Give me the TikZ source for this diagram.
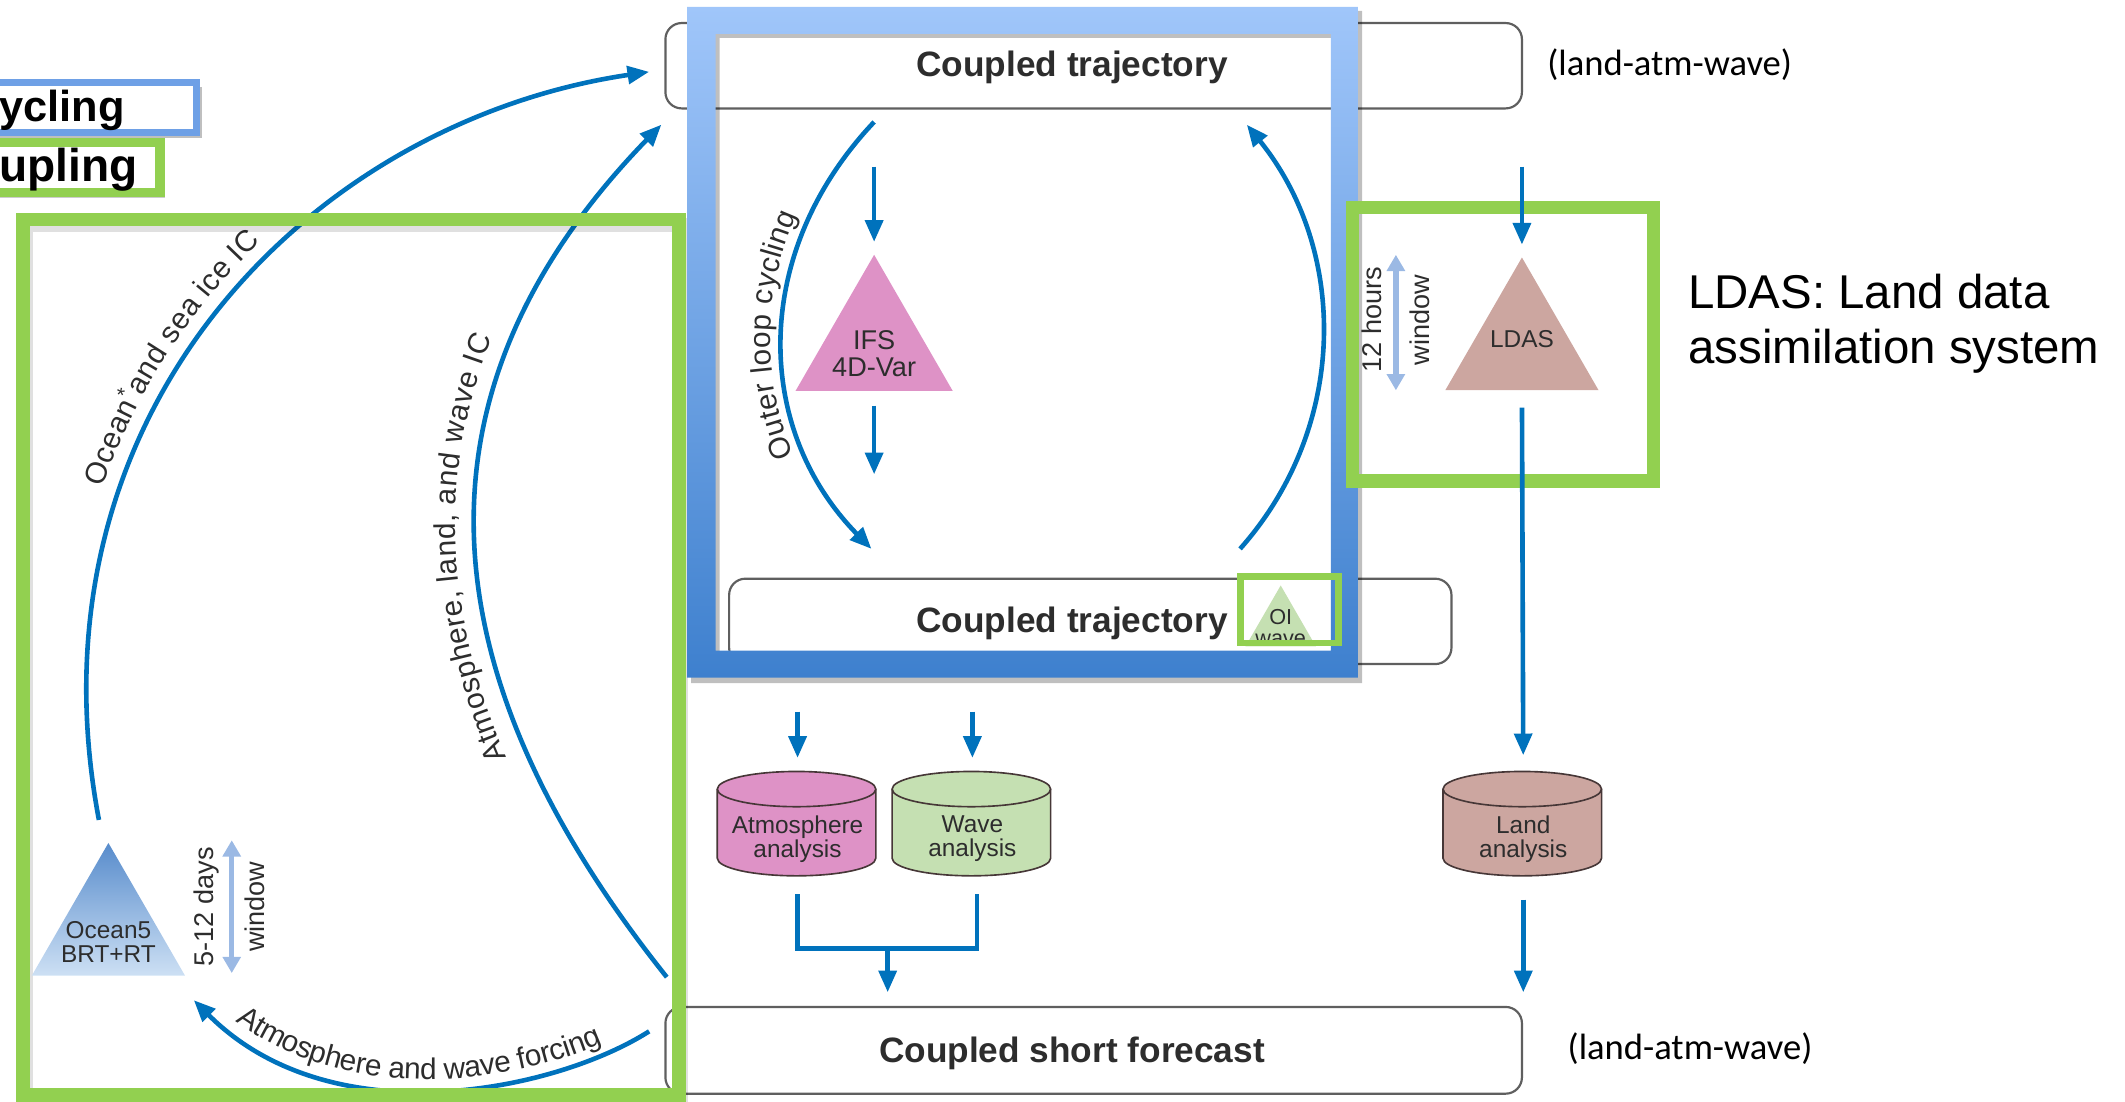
\documentclass[tikz,border=0pt]{standalone}
\usepackage{fontspec}
\setmainfont{Liberation Sans}
\newfontfamily\calibri{Carlito}
\usetikzlibrary{arrows.meta,shapes.geometric,decorations.text}

\definecolor{flowblue}{RGB}{0,114,188}
\definecolor{hlgreen}{RGB}{146,208,80}
\definecolor{frametop}{RGB}{160,198,250}
\definecolor{framebot}{RGB}{62,128,206}
\definecolor{boxgray}{RGB}{95,95,95}
\definecolor{txtgray}{RGB}{45,45,45}
\definecolor{atmpink}{RGB}{222,146,198}
\definecolor{wavgreen}{RGB}{197,224,178}
\definecolor{lndbrown}{RGB}{204,166,160}
\definecolor{winblue}{RGB}{155,185,228}
\definecolor{oceantop}{RGB}{88,140,204}
\definecolor{oceanbot}{RGB}{205,224,244}
\definecolor{cycblue}{RGB}{110,160,230}
\definecolor{drumedge}{RGB}{70,55,55}

\tikzset{every picture/.style={line width=0.75pt}}
\tikzset{
  flowarrow/.style={draw=flowblue, line width=1.7pt, -{Triangle[length=8pt,width=6.5pt]}},
  flowline/.style={draw=flowblue, line width=1.7pt},
  winarrow/.style={draw=winblue, line width=2pt, {Triangle[length=6pt,width=6.5pt]}-{Triangle[length=6pt,width=6.5pt]}},
  trajbox/.style={draw=boxgray, line width=0.8pt, rounded corners=6pt, fill=white, inner sep=0pt},
  tri/.style={regular polygon, regular polygon sides=3, inner sep=0pt, fill=#1},
  drumarea/.style={minimum width=58.5pt, minimum height=38.5pt, inner sep=0pt},
  drumline/.style={draw=drumedge, line width=0.6pt},
  boldtxt/.style={inner sep=0pt, text=txtgray, font=\bfseries\fontsize{13}{15}\selectfont},
  smalltxt/.style={inner sep=0pt, align=center, text=txtgray, font=\fontsize{#1}{#1}\selectfont},
}

\begin{document}
\begin{tikzpicture}[x=0.5pt,y=0.5pt,yscale=-1,xscale=1]
    \useasboundingbox (0,0) rectangle (1568,813);

    % Trajectory boxes
    \node[trajbox, minimum width=316pt, minimum height=31.5pt] (trajtop) at (807,48.5) {};
    \node[trajbox, minimum width=266.5pt, minimum height=31.5pt] (trajbot) at (804.5,458.5) {};
    \node[trajbox, minimum width=316pt, minimum height=32pt] (fcst) at (807,775) {};

    % Ocean cycle
    \coordinate (ocIC) at (73,605);
    \coordinate (topIC) at (479,53);
    \coordinate (fcIC) at (492,721);
    \coordinate (topIC2) at (488,92);
    \coordinate (fcF) at (479,761);
    \coordinate (ocF) at (143,738);
    \draw[flowarrow] (ocIC) .. controls (16,305) and (229,90) .. (topIC);
    \draw[flowarrow] (fcIC) .. controls (318,503) and (292,294) .. (topIC2);
    \draw[flowarrow] (fcF) .. controls (410,805) and (245,840) .. (ocF);
    \path[decorate, decoration={text along path, raise=6pt, text color=txtgray, text align={left, left indent=122pt},
        text={|\fontsize{11}{13}\selectfont|Ocean{\textsuperscript{*}}and sea ice IC}}]
        (ocIC) .. controls (16,305) and (229,90) .. (topIC);
    \path[decorate, decoration={text along path, raise=7.5pt, text color=txtgray, text align=center,
        text={|\fontsize{11}{13}\selectfont|Atmosphere, land, and wave IC}}]
        (fcIC) .. controls (318,503) and (292,294) .. (topIC2);
    \path[decorate, decoration={text along path, raise=4pt, text color=txtgray, text align=center,
        text={|\fontsize{11}{13}\selectfont|Atmosphere and wave forcing}}]
        (ocF) .. controls (245,840) and (410,805) .. (fcF);

    % Weak coupling frame
    \draw[black, opacity=0.12, line width=5pt] (19,166) rectangle (503,811);
    \draw[hlgreen, line width=5pt] (17,162) rectangle (501,808);

    % Ocean5
    \node[regular polygon, regular polygon sides=3, inner sep=0pt, top color=oceantop, bottom color=oceanbot, minimum size=65.3pt] (ocean) at (80,687.3) {};
    \node[smalltxt=9] (oceantxt) at (80,695) {Ocean5\\BRT+RT};
    \coordinate (ocwinA) at (171,620);
    \coordinate (ocwinB) at (171,718);
    \draw[winarrow] (ocwinA) -- (ocwinB);
    \node[smalltxt=10, rotate=90] (ocdays) at (152,669) {5-12 days};
    \node[smalltxt=10, rotate=90] (ocwin) at (188,669) {window};

    % Outer loop
    \coordinate (loopA) at (645,90);
    \coordinate (loopB) at (643,405);
    \coordinate (loopC) at (915,405);
    \coordinate (loopD) at (920,92);
    \draw[flowarrow] (loopA) .. controls (555,185) and (555,315) .. (loopB);
    \draw[flowarrow] (loopC) .. controls (995,315) and (995,185) .. (loopD);
    \path[decorate, decoration={text along path, raise=4.5pt, text color=txtgray, text align=center,
        text={|\fontsize{11}{13}\selectfont|Outer loop cycling}}]
        (loopB) .. controls (555,315) and (555,185) .. (loopA);

    \node[tri=atmpink, minimum size=67pt] (ifs) at (645,255) {};
    \node[smalltxt=10] (ifstxt) at (645,261) {IFS\\4D-Var};
    \coordinate (ifsin) at (645,123);
    \coordinate (ifsout) at (645,350);
    \draw[flowarrow, shorten >=4pt] (ifsin) -- (ifs.north);
    \draw[flowarrow, shorten <=5pt] (ifs.south) -- (ifsout);

    \node[tri=wavgreen, minimum size=30pt] (oiwave) at (945,462) {};
    \node[smalltxt=8] (oitxt) at (945,463) {OI\\wave};

    \node[boldtxt] (trajtoptxt) at (791,50) {Coupled trajectory};
    \node[boldtxt] (trajbottxt) at (791,460) {Coupled trajectory};
    \node[boldtxt] (fcsttxt) at (791,777) {Coupled short forecast};

    % Strong coupling frame
    \fill[black, opacity=0.25, even odd rule] (510,8) rectangle (1005,504) (531,28) rectangle (985,484);
    \shade[top color=frametop, bottom color=framebot, even odd rule] (507,5) rectangle (1002,500) (528,25) rectangle (982,480);
    \draw[hlgreen, line width=2.5pt] (915.5,425.5) rectangle (987.5,474.5);

    % Land
    \node[tri=lndbrown, minimum size=65.3pt] (ldas) at (1123,255.3) {};
    \node[smalltxt=9] (ldastxt) at (1123,250) {LDAS};
    \coordinate (ldasin) at (1123,123);
    \coordinate (ldwinA) at (1030,188);
    \coordinate (ldwinB) at (1030,288);
    \draw[winarrow] (ldwinA) -- (ldwinB);
    \node[smalltxt=10, rotate=90] (ldhours) at (1012,236) {12 hours};
    \node[smalltxt=10, rotate=90] (ldwin) at (1048,236) {window};
    \draw[hlgreen, line width=5pt] (998,153) rectangle (1220,355);

    % Analyses
    \node[drumarea] (atmana) at (588.5,608.5) {};
    \node[drumarea] (wavana) at (717.5,608.5) {};
    \node[drumarea] (lndana) at (1124,608.5) {};
    \draw[drumline, fill=atmpink] (atmana.north west) ++(0,13) -- ++(0,51) arc[start angle=180, end angle=0, x radius=58.5, y radius=13] -- ++(0,-51) arc[start angle=0, end angle=-180, x radius=58.5, y radius=13] -- cycle;
    \draw[drumline] (atmana.north west) ++(0,13) arc[start angle=180, end angle=0, x radius=58.5, y radius=13];
    \draw[drumline, fill=wavgreen] (wavana.north west) ++(0,13) -- ++(0,51) arc[start angle=180, end angle=0, x radius=58.5, y radius=13] -- ++(0,-51) arc[start angle=0, end angle=-180, x radius=58.5, y radius=13] -- cycle;
    \draw[drumline] (wavana.north west) ++(0,13) arc[start angle=180, end angle=0, x radius=58.5, y radius=13];
    \draw[drumline, fill=lndbrown] (lndana.north west) ++(0,13) -- ++(0,51) arc[start angle=180, end angle=0, x radius=58.5, y radius=13] -- ++(0,-51) arc[start angle=0, end angle=-180, x radius=58.5, y radius=13] -- cycle;
    \draw[drumline] (lndana.north west) ++(0,13) arc[start angle=180, end angle=0, x radius=58.5, y radius=13];
    \node[smalltxt=9] (atmtxt) at (588.5,619) {Atmosphere\\analysis};
    \node[smalltxt=9] (wavtxt) at (717.5,619) {Wave\\analysis};
    \node[smalltxt=9] (lndtxt) at (1124,619) {Land\\analysis};

    \draw[flowarrow, shorten >=4pt] (ldasin) -- (ldas.north);
    \draw[flowarrow, shorten <=6pt, shorten >=6pt] (ldas.south) -- (lndana.north);
    \draw[flowarrow, shorten <=8pt, shorten >=5pt] (lndana.south) -- (lndana.south |- fcst.north);
    \coordinate (atmin) at (588.5,525);
    \coordinate (wavin) at (717.5,525);
    \draw[flowarrow, shorten >=5pt] (atmin) -- (atmana.north);
    \draw[flowarrow, shorten >=5pt] (wavin) -- (wavana.north);
    \coordinate (atmbot) at (588.5,660);
    \coordinate (wavbot) at (721,660);
    \coordinate (merge) at (655,700);
    \draw[flowline] (atmbot) |- (merge) -| (wavbot);
    \draw[flowarrow, shorten >=5pt] (merge) -- (merge |- fcst.north);

    % Legend
    \fill[black, opacity=0.25] (-8,64) rectangle (149,102);
    \draw[cycblue, line width=2.5pt, fill=white] (-10,61) rectangle (145,98);
    \node[anchor=base west, inner sep=0pt, font=\bfseries\fontsize{16}{18}\selectfont] (cyctxt) at (-1,90) {ycling};
    \fill[black, opacity=0.2] (-8,108) rectangle (122,146);
    \draw[hlgreen, line width=3.5pt, fill=white] (-10,105) rectangle (118,142);
    \node[anchor=base west, inner sep=0pt, font=\bfseries\fontsize{17}{19}\selectfont] (cpltxt) at (-1,134) {upling};

    \node[anchor=west, inner sep=0pt, font=\calibri\fontsize{13.5}{16}\selectfont] (lawtop) at (1141,48) {(land-atm-wave)};
    \node[anchor=west, inner sep=0pt, font=\calibri\fontsize{13.5}{16}\selectfont] (lawbot) at (1156,774) {(land-atm-wave)};
    \node[anchor=base west, inner sep=0pt, font=\fontsize{17.5}{20}\selectfont] (ldasdesc1) at (1245,228) {LDAS: Land data};
    \node[anchor=base west, inner sep=0pt, font=\fontsize{17.5}{20}\selectfont] (ldasdesc2) at (1245,268) {assimilation system};
\end{tikzpicture}
\end{document}
